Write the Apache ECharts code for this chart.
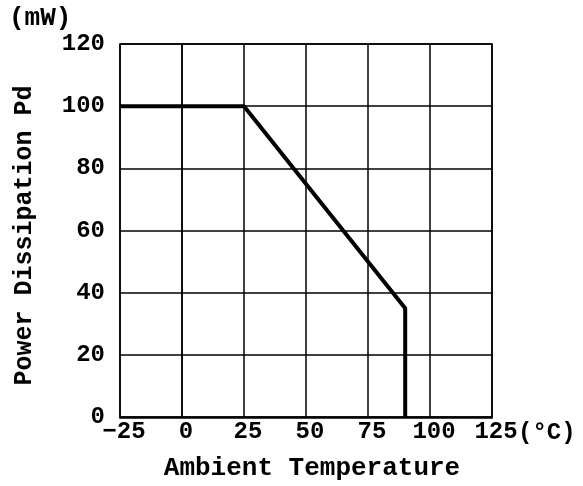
<!DOCTYPE html>
<html>
<head>
<meta charset="utf-8">
<script src="https://cdn.jsdelivr.net/npm/echarts@6/dist/echarts.min.js"></script>
<style>
  html, body { margin: 0; padding: 0; background: #fff; }
  #main { width: 583px; height: 486px; }
</style>
</head>
<body>
<div id="main"></div>
<script>
// derating curve: temperature (°C) vs power (mW)
var temps = [-25, 25, 90, 90];
var power = [100, 100, 35, 0];
var xTicks = [-25, 0, 25, 50, 75, 100, 125];
var yTicks = [0, 20, 40, 60, 80, 100, 120];

var font = '"Liberation Mono", "DejaVu Sans Mono", monospace';

var chart = echarts.init(document.getElementById('main'));
var pts = [];
for (var i = 0; i < temps.length; i++) {
	pts.push([temps[i], power[i]]);
}

chart.setOption({
	animation: false,
	grid: { left: 120, right: 91, top: 44, bottom: 68 },
	xAxis: {
		type: 'value',
		min: xTicks[0],
		max: xTicks[xTicks.length - 1],
		interval: 25,
		name: 'Ambient Temperature',
		nameLocation: 'middle',
		nameGap: 38,
		nameTextStyle: { fontFamily: font, fontSize: 26, fontWeight: 'bold', color: '#000', padding: [0, 0, 0, 12] },
		axisLine: { show: true, lineStyle: { color: '#000', width: 1.5 } },
		axisTick: { show: false },
		axisLabel: {
			fontFamily: font, fontSize: 24, fontWeight: 'bold', color: '#000', margin: 3,
			padding: [0, 0, 0, 8],
			formatter: function (v) { return v < 0 ? '\u2212' + (-v) : '' + v; }
		},
		splitLine: { show: true, lineStyle: { color: '#000', width: 1.5 } }
	},
	yAxis: {
		type: 'value',
		min: yTicks[0],
		max: yTicks[yTicks.length - 1],
		interval: 20,
		name: 'Power Dissipation Pd',
		nameLocation: 'middle',
		nameGap: 83,
		nameTextStyle: { fontFamily: font, fontSize: 25, fontWeight: 'bold', color: '#000', padding: [0, 10, 0, 0] },
		axisLine: { show: true, lineStyle: { color: '#000', width: 1.5 } },
		axisTick: { show: false },
		axisLabel: {
			fontFamily: font, fontSize: 24, fontWeight: 'bold', color: '#000', margin: 15,
			padding: [0, 0, 12, 0]
		},
		splitLine: { show: true, lineStyle: { color: '#000', width: 1.5 } }
	},
	graphic: [
		{ type: 'text', left: 9, top: 5, style: { text: '(mW)', font: 'bold 26px ' + font, fill: '#000' } },
		{ type: 'text', left: 518, top: 421, style: { text: '(\u00b0C)', font: 'bold 24px ' + font, fill: '#000' } },
		{ type: 'rect', shape: { x: 120, y: 44, width: 372, height: 374 }, style: { fill: 'none', stroke: '#000', lineWidth: 1.5 }, z: 10 }
	],
	series: [{
		type: 'line',
		data: pts,
		symbol: 'none',
		lineStyle: { color: '#000', width: 4 }
	}]
});
</script>
</body>
</html>
